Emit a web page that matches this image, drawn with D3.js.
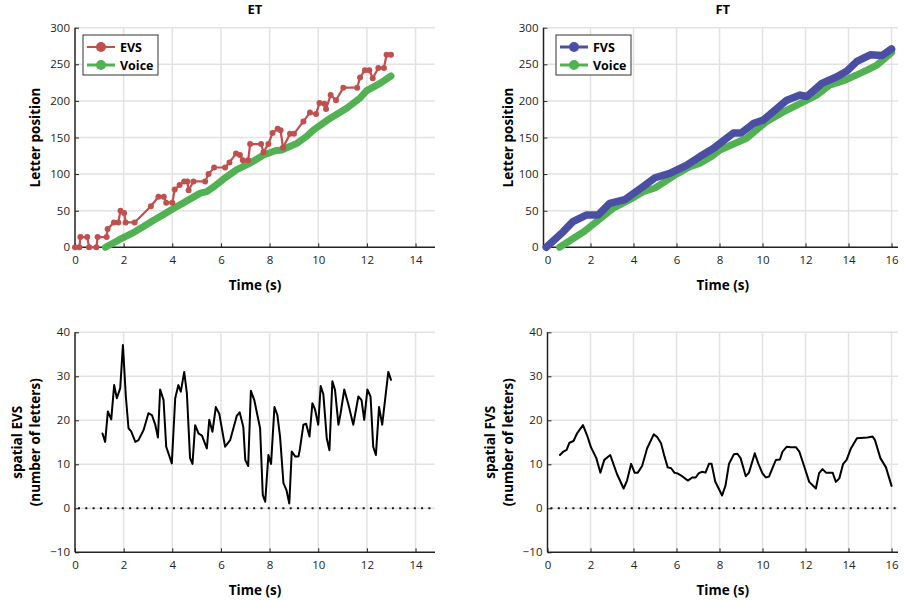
<!DOCTYPE html>
<html>
<head>
<meta charset="utf-8">
<script src="https://cdn.jsdelivr.net/npm/d3@7"></script>
<style>
  body { margin: 0; background: #fff; }
  text { font-family: "Open Sans", "Noto Sans", sans-serif; }
</style>
</head>
<body>
<svg id="fig" width="905" height="600"></svg>
<script>
// ---- data: [time (s), value] ----
const evsET = [[0,0],[0.18,0],[0.22,14],[0.5,14],[0.58,0],[0.88,0],[0.93,14],[1.3,14],[1.34,25],[1.6,34],
  [1.78,34],[1.87,50],[2.02,47],[2.08,34],[2.45,34],[3.12,56],[3.43,69],[3.65,69],[3.75,61],[4.0,61],
  [4.1,79],[4.3,85],[4.49,90],[4.62,90],[4.67,78],[4.87,90],[5.35,90],[5.49,100],[5.72,109],[6.17,109],
  [6.35,116],[6.62,128],[6.78,126],[6.9,119],[7.12,119],[7.2,141],[7.65,141],[7.75,130],[7.95,141],[8.12,156],
  [8.33,162],[8.45,160],[8.55,136],[8.84,155],[9.0,155],[9.39,172],[9.66,184],[9.91,182],[10.05,197],[10.25,196],
  [10.32,189],[10.51,208],[10.73,201],[11.03,218],[11.6,218],[11.72,232],[11.92,242],[12.1,242],[12.24,231],[12.47,245],
  [12.7,245],[12.81,263],[12.99,263]];
const voiceET = [[1.25,0],[1.8,10],[2.34,19],[2.8,28],[3.23,37],[3.65,45],[4.05,53],[4.53,62],[5.15,74],[5.42,76],
  [5.8,85],[6.1,93],[6.65,106],[7.2,115],[7.75,126],[8.23,132],[8.5,133],[9.12,142],[9.5,151],[9.8,160],
  [10.48,176],[11.17,190],[11.72,204],[11.99,214],[12.54,224],[12.99,234]];
const fvsFT = [[-0.06,0],[0.72,21],[1.18,35],[1.8,44],[2.35,44],[2.89,60],[3.59,65],[4.45,83],[5.0,95],[5.69,101],
  [6.46,112],[7.09,124],[7.71,135],[8.33,149],[8.64,156],[9.0,156],[9.57,169],[10.04,174],[11.13,201],[11.75,208],
  [12.06,206],[12.76,224],[13.46,233],[13.93,241],[14.39,254],[15.01,263],[15.56,262],[16.0,271]];
const voiceFT = [[0.56,0],[1.72,22],[3.04,53],[3.82,65],[4.45,76],[5.0,81],[6.0,100],[6.62,110],[7.09,115],[7.63,124],
  [8.02,133],[9.26,149],[10.2,172],[10.97,185],[12.53,208],[13.15,222],[13.6,226],[13.9,229],[14.86,242],[15.32,249],
  [16.0,266]];
const spatialEVS = [[1.13,17],[1.24,15.1],[1.35,22],[1.49,20.2],[1.61,28],[1.72,25],[1.86,27.3],[1.97,37.1],[2.09,25.4],[2.2,18.2],
  [2.31,17.5],[2.48,15.1],[2.61,15.5],[2.82,17.8],[3.02,21.6],[3.16,21.2],[3.3,19],[3.41,16.1],[3.5,27],[3.64,24.6],
  [3.75,14],[3.98,10.2],[4.12,25],[4.25,28],[4.35,26.5],[4.49,31],[4.6,26.1],[4.73,11.4],[4.83,10.1],[4.94,18.9],
  [5.08,17],[5.22,16.5],[5.42,13.6],[5.52,20.1],[5.65,17.4],[5.79,23],[5.93,21.5],[6.17,14],[6.38,15.5],[6.65,21],
  [6.77,21.8],[6.92,18.5],[7.0,11],[7.12,9.6],[7.23,26.7],[7.37,24.6],[7.61,18.2],[7.72,3.0],[7.82,1.5],[7.95,12.1],
  [8.06,10.1],[8.2,23],[8.32,21.2],[8.43,16.3],[8.57,5.7],[8.69,4.2],[8.81,1.1],[8.91,12.9],[9.05,11.8],[9.19,11.8],
  [9.25,13.6],[9.39,19],[9.5,19.2],[9.64,16.3],[9.76,23.9],[9.87,22.4],[10.0,19],[10.1,27.8],[10.21,25.9],[10.35,15.9],
  [10.46,13.2],[10.58,28.9],[10.69,26.9],[10.83,19],[10.92,21.6],[11.07,27],[11.24,23.6],[11.44,19],[11.65,25.4],[11.78,24.6],
  [11.89,20.1],[12.02,27],[12.15,25.4],[12.26,14],[12.37,12.1],[12.5,23],[12.63,19],[12.88,31],[12.99,29.2]];
const spatialFVS = [[0.58,12.1],[0.74,12.9],[0.89,13.3],[1.02,14.9],[1.21,15.3],[1.37,17],[1.65,18.9],[1.84,16.6],[2.02,13.9],[2.27,11.4],
  [2.46,8.1],[2.64,11],[2.92,12.1],[3.23,7.8],[3.54,4.5],[3.7,6.3],[3.89,10.1],[4.05,8.1],[4.2,8.1],[4.4,9.6],
  [4.63,13.6],[4.94,16.8],[5.1,16.2],[5.28,14.8],[5.44,11.8],[5.59,9.3],[5.75,9.1],[5.9,8.1],[6.06,7.9],[6.26,7.3],
  [6.53,6.3],[6.73,7.0],[6.89,7.0],[7.04,8.0],[7.2,8.3],[7.35,8.1],[7.51,10.1],[7.63,10.1],[7.8,6.1],[8.12,2.9],
  [8.28,5.2],[8.44,10.1],[8.67,12.3],[8.83,12.4],[8.98,11.4],[9.22,7.3],[9.37,8.1],[9.64,12.5],[9.8,10.2],[9.99,8.0],
  [10.15,7.0],[10.3,7.2],[10.62,11],[10.81,11.1],[10.93,12.9],[11.13,14],[11.32,13.9],[11.55,13.9],[11.71,12.9],[11.94,9.5],
  [12.17,6.0],[12.48,4.5],[12.63,8.0],[12.79,8.9],[12.95,8.1],[13.26,8.1],[13.41,6.0],[13.57,6.8],[13.75,10.1],[13.91,11],
  [14.11,13.6],[14.39,15.9],[14.88,16.1],[15.12,16.3],[15.23,15.5],[15.48,11.4],[15.74,9.3],[16.0,5.1]];

const xTicksET = [0, 2, 4, 6, 8, 10, 12, 14];
const xTicksFT = [0, 2, 4, 6, 8, 10, 12, 14, 16];
const posTicks = [0, 50, 100, 150, 200, 250, 300];
const spatialTicks = [-10, 0, 10, 20, 30, 40];

const red = "#c0504d", green = "#52b152", blue = "#4b4fa3";
const svg = d3.select("#fig");

function panel(cfg) {
  const x = d3.scaleLinear().domain(cfg.xDomain).range([cfg.left, cfg.right]);
  const y = d3.scaleLinear().domain(cfg.yDomain).range([cfg.bottom, cfg.top]);
  const g = svg.append("g");

  // grid
  g.selectAll(".gx").data(cfg.xTicks.filter(t => t > cfg.xDomain[0])).join("line")
    .attr("x1", d => x(d)).attr("x2", d => x(d))
    .attr("y1", cfg.top).attr("y2", cfg.bottom)
    .attr("stroke", "#e2e2e2").attr("stroke-width", 1.5);
  g.selectAll(".gy").data(cfg.yTicks.filter(t => t > cfg.yDomain[0])).join("line")
    .attr("x1", cfg.left).attr("x2", cfg.right)
    .attr("y1", d => y(d)).attr("y2", d => y(d))
    .attr("stroke", "#e2e2e2").attr("stroke-width", 1.5);

  // axes
  const xa = g.append("g").attr("transform", `translate(0,${cfg.bottom})`)
    .call(d3.axisBottom(x).tickValues(cfg.xTicks).tickSizeInner(-4).tickSizeOuter(0).tickPadding(9));
  const ya = g.append("g").attr("transform", `translate(${cfg.yAxisX},0)`)
    .call(d3.axisLeft(y).tickValues(cfg.yTicks).tickSizeInner(-4).tickSizeOuter(0).tickPadding(5));
  [xa, ya].forEach(a => {
    a.select(".domain").attr("stroke", "#222").attr("stroke-width", 1.5);
    a.selectAll(".tick line").attr("stroke", "#222");
    a.selectAll("text").attr("font-size", 11.5).attr("fill", "#222");
  });
  ya.select(".domain").attr("d", `M0,${cfg.bottom}V${cfg.top}`);
  xa.select(".domain").attr("d", `M${cfg.yAxisX},0H${cfg.right}`);

  // labels
  g.append("text").attr("x", (cfg.left + cfg.right) / 2).attr("y", cfg.bottom + 43)
    .attr("text-anchor", "middle").attr("font-weight", "bold").attr("font-size", 13.5)
    .text("Time (s)");
  cfg.yLabel.forEach((lab, i) => {
    const lx = cfg.yLabelX + i * 18;
    g.append("text")
      .attr("transform", `translate(${lx},${(cfg.top + cfg.bottom) / 2}) rotate(-90)`)
      .attr("text-anchor", "middle").attr("font-weight", "bold").attr("font-size", 13.5)
      .text(lab);
  });
  if (cfg.title) {
    g.append("text").attr("x", (cfg.left + cfg.right) / 2).attr("y", 14)
      .attr("text-anchor", "middle").attr("font-weight", "bold").attr("font-size", 13)
      .text(cfg.title);
  }
  return { g, x, y };
}

function drawLine(p, data, color, width, dots) {
  const line = d3.line().x(d => p.x(d[0])).y(d => p.y(d[1]));
  p.g.append("path").attr("d", line(data)).attr("fill", "none")
    .attr("stroke", color).attr("stroke-width", width)
    .attr("stroke-linejoin", "round").attr("stroke-linecap", "round");
  if (dots) {
    p.g.selectAll(null).data(data).join("circle")
      .attr("cx", d => p.x(d[0])).attr("cy", d => p.y(d[1])).attr("r", dots)
      .attr("fill", color);
  }
}

function legend(p, lx, ly, items) {
  const lg = p.g.append("g").attr("transform", `translate(${lx},${ly})`);
  lg.append("rect").attr("width", 75).attr("height", 40)
    .attr("fill", "#fff").attr("stroke", "#333").attr("stroke-width", 1);
  items.forEach((it, i) => {
    const yy = 12 + i * 18;
    lg.append("line").attr("x1", 4).attr("x2", 32).attr("y1", yy).attr("y2", yy)
      .attr("stroke", it.color).attr("stroke-width", it.w);
    lg.append("circle").attr("cx", 18).attr("cy", yy).attr("r", 5).attr("fill", it.color);
    lg.append("text").attr("x", 37).attr("y", yy + 4.5)
      .attr("font-weight", "bold").attr("font-size", 12.5).text(it.name);
  });
}

// top left: ET
const tl = panel({ left: 75, right: 435, top: 27.7, bottom: 247.3, yAxisX: 75,
  xDomain: [0, 14.8], yDomain: [0, 300], xTicks: xTicksET, yTicks: posTicks,
  yLabel: ["Letter position"], yLabelX: 40, title: "ET" });
drawLine(tl, voiceET, green, 7, 0);
drawLine(tl, evsET, red, 2.2, 3);
legend(tl, 83, 35, [{ name: "EVS", color: red, w: 2 }, { name: "Voice", color: green, w: 3 }]);

// top right: FT
const tr = panel({ left: 547.5, right: 898, top: 27.7, bottom: 247.3, yAxisX: 543.5,
  xDomain: [0, 16.3], yDomain: [0, 300], xTicks: xTicksFT, yTicks: posTicks,
  yLabel: ["Letter position"], yLabelX: 513, title: "FT" });
drawLine(tr, voiceFT, green, 7, 0);
drawLine(tr, fvsFT, blue, 7.5, 0);
legend(tr, 556, 35, [{ name: "FVS", color: blue, w: 3 }, { name: "Voice", color: green, w: 3 }]);

// bottom left: spatial EVS
const bl = panel({ left: 75, right: 435, top: 332.3, bottom: 552.3, yAxisX: 75,
  xDomain: [0, 14.8], yDomain: [-10, 40], xTicks: xTicksET, yTicks: spatialTicks,
  yLabel: ["spatial EVS", "(number of letters)"], yLabelX: 22 });
bl.g.append("line").attr("x1", bl.x(0) + 3).attr("x2", bl.x(14.8)).attr("y1", bl.y(0)).attr("y2", bl.y(0))
  .attr("stroke", "#111").attr("stroke-width", 2).attr("stroke-dasharray", "2,5.3");
drawLine(bl, spatialEVS, "#000", 2, 0);

// bottom right: spatial FVS
const br = panel({ left: 547.5, right: 898, top: 332.3, bottom: 552.3, yAxisX: 547.5,
  xDomain: [0, 16.3], yDomain: [-10, 40], xTicks: xTicksFT, yTicks: spatialTicks,
  yLabel: ["spatial FVS", "(number of letters)"], yLabelX: 495 });
br.g.append("line").attr("x1", br.x(0) + 3).attr("x2", br.x(16.3)).attr("y1", br.y(0)).attr("y2", br.y(0))
  .attr("stroke", "#111").attr("stroke-width", 2).attr("stroke-dasharray", "2,5.3");
drawLine(br, spatialFVS, "#000", 2, 0);
</script>
</body>
</html>
